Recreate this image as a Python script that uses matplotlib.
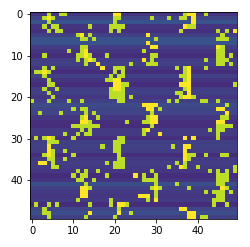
import numpy as np
import matplotlib
matplotlib.use("Agg")
import matplotlib.pyplot as plt

ticks = [0, 10, 20, 30, 40]

row_levels = [0.15,0.21,0.25,0.15,0.14,0.19,0.25,0.25,0.18,0.15,
              0.13,0.18,0.19,0.15,0.13,0.19,0.15,0.13,0.18,0.19,
              0.16,0.19,0.23,0.21,0.21,0.16,0.14,0.13,0.17,0.17,
              0.14,0.19,0.19,0.18,0.13,0.17,0.18,0.17,0.16,0.13,
              0.15,0.24,0.19,0.17,0.16,0.17,0.13,0.21,0.24,0.19]

bright_cols = [
 [4,7,8,20,21,37,38,39,42],
 [3,4,5,20,21,29,33,36,37,39],
 [4,20,39],
 [3,5,6,14,19,20,21,22,37,38,39],
 [4,6,7,19,21,36,45,47,49],
 [11,12,14,28,46],
 [12,13,15,30,45,46,47],
 [28],
 [12,13,29,30,45,46],
 [9,12,13,27,45,46],
 [3,11,12,13,14,18,29,30,45,46,48],
 [11,13,14,15,27,29,42,45,46,47],
 [13,16,24,28,29,30,45,46,48],
 [3,5,17,20,21,22,35,37,38,42],
 [1,2,3,4,20,22,37,38],
 [3,19,21,22,36,37,38],
 [4,18,19,20,21,37,38],
 [4,5,20,21,22,23,36,37,38,49],
 [3,6,19,20,21,22,37,38],
 [4,19,20,21,22,35,36,38],
 [5,19,20,21,22,24,36,37,38,39],
 [0,4,9,12,21,22,33,35,41,42,45],
 [27,28,29,30,47],
 [10,12,13,28,29,31,45,46],
 [2,7,13,15,29,47],
 [12,13,16,28,29,30,46,47],
 [12,13,14,23,27,28,29,45,46],
 [10,11,12,13,14,15,16,29,45,46,47,48],
 [12,14,27,28,43,45,46],
 [8,11,13,14,27,31,45],
 [1,3,4,5,10,21,22,37,39,45],
 [4,5,6,20,21,22],
 [4,17,20,21,34,37,38],
 [4,5,8,20,21,37],
 [3,4,5,10,21,37,38,39,42,46,47],
 [4,5,8,21,22,37,38],
 [2,3,5,18,20,21,22,35,37],
 [5,6,20,21,22,33,36,37,40,49],
 [11,13,16,29,43,45,47,49],
 [10,12,13,18,25,27,30,45,46,47],
 [11,12,15,27,28,29,30,45,46,47],
 [13,30,35,45,46],
 [12,13,14,29,30,31,38,46,47],
 [12,13,30,42,44,45,46,48],
 [12,13,26,27,28,30,45,46],
 [11,19,28,30,44,45,46],
 [1,4,6,14,19,21,22,23,44,47],
 [3,21,36,37],
 [3,4,14,21,24,38,39],
 [4,13,20,38,41,42],
]

yellow_cols = {
 0:[20,21,38,39], 1:[4,39], 2:[39], 3:[37], 4:[49], 5:[12,28], 7:[28],
 8:[29,30,45], 9:[13], 10:[13], 11:[14,27], 12:[16], 13:[17,38],
 14:[3,38], 15:[38], 16:[20,21,38], 17:[20,21,36,37,38], 18:[20,21,38],
 19:[38], 20:[37,38], 22:[27,28,29,30], 23:[28,29,45,46], 24:[47],
 25:[13,29,30], 26:[12,13,29,30,45,46], 28:[28], 29:[31], 30:[4,37,39],
 32:[4,37,38], 33:[4,37], 34:[4,37], 35:[37], 36:[2,3], 37:[36],
 39:[25], 42:[12,13,30,46], 43:[12,13], 44:[12,13,26,27,28], 45:[30],
 46:[21,22], 47:[36,37], 48:[14,21,38,39], 49:[38,39],
}

lime_level = 0.9
yellow_level = 1.0

data = np.array([[row_levels[r]] * 50 for r in range(50)], dtype=float)
for r, cols in enumerate(bright_cols):
    data[r, cols] = lime_level
for r, cols in yellow_cols.items():
    data[r, cols] = yellow_level

W, H = 250, 247
fig = plt.figure(figsize=(W / 72, H / 72), dpi=72)
ax = fig.add_axes([30.0 / W, 1 - (12.4 + 206.8) / H, 206.8 / W, 206.8 / H])
ax.imshow(data, cmap="viridis", vmin=0, vmax=1, aspect="equal")
ax.set_xticks(ticks)
ax.set_yticks(ticks)
fig.savefig("out.png", dpi=72)
